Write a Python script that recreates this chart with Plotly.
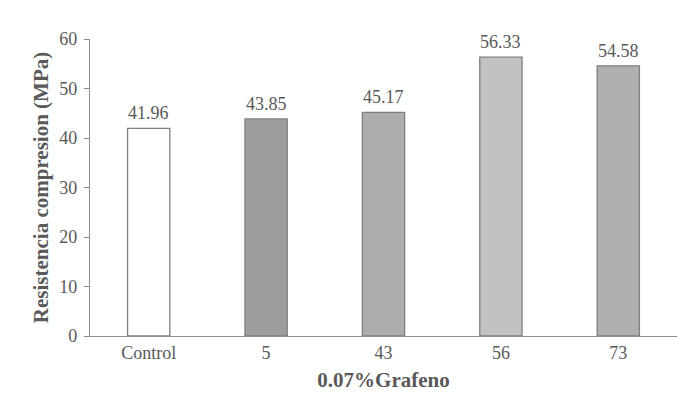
import plotly.graph_objects as go

categories = ["Control", "5", "43", "56", "73"]
values = [41.96, 43.85, 45.17, 56.33, 54.58]
labels = ["41.96", "43.85", "45.17", "56.33", "54.58"]
colors = ["#ffffff", "#9d9d9d", "#adadad", "#c2c2c2", "#b0b0b0"]

font_family = "Liberation Serif"
gray = "#595959"

fig = go.Figure(go.Bar(
    x=categories, y=values,
    marker=dict(color=colors, line=dict(color="#7f7f7f", width=1.3)),
    cliponaxis=False,
))

for i, (v, t) in enumerate(zip(values, labels)):
    fig.add_annotation(
        x=i, y=v, text=t, showarrow=False,
        xanchor="center", yanchor="bottom", yshift=3,
        font=dict(family=font_family, size=18, color=gray),
    )

fig.update_layout(
    width=700, height=398,
    margin=dict(l=90, r=23, t=39, b=62),
    paper_bgcolor="white", plot_bgcolor="white",
    bargap=0.64,
    showlegend=False,
    font=dict(family=font_family, color=gray),
    xaxis=dict(
        type="category",
        showline=True, linecolor="#8c8c8c", linewidth=1.3,
        ticks="", tickangle=0,
        tickfont=dict(family=font_family, size=18, color=gray),
        title=dict(text="<b>0.07%Grafeno</b>", font=dict(family=font_family, size=21, color=gray), standoff=10),
    ),
    yaxis=dict(
        range=[0, 60], dtick=10,
        showline=True, linecolor="#8c8c8c", linewidth=1.3,
        ticks="outside", ticklen=5, tickcolor="#8c8c8c", tickwidth=1.3,
        showgrid=False, zeroline=False,
        ticklabelstandoff=3,
        tickfont=dict(family=font_family, size=18, color=gray),
        title=dict(text="<b>Resistencia compresion (MPa)</b>", font=dict(family=font_family, size=21, color=gray), standoff=4),
    ),
)

fig.write_html("out.html")
